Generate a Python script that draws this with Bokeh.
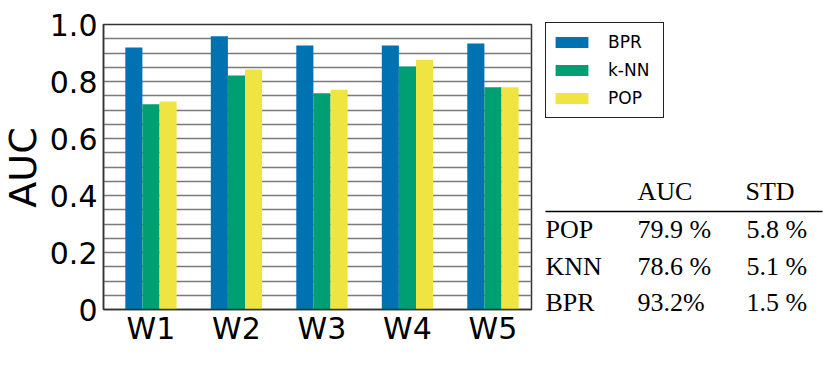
import math
from bokeh.plotting import figure
from bokeh.layouts import row
from bokeh.models import (FixedTicker, Legend, LegendItem, ColumnDataSource, Range1d)
from bokeh.transform import dodge
from bokeh.core.properties import value
from bokeh.embed import file_html
from bokeh.resources import INLINE

# ---------------- data ----------------
weeks = ["W1", "W2", "W3", "W4", "W5"]
bpr = [0.919, 0.959, 0.926, 0.926, 0.933]
knn = [0.720, 0.821, 0.759, 0.853, 0.780]
pop = [0.730, 0.842, 0.771, 0.876, 0.780]
series_names = ["BPR", "k-NN", "POP"]
y_ticks = [0, 0.2, 0.4, 0.6, 0.8, 1.0]
y_tick_labels = ["0", "0.2", "0.4", "0.6", "0.8", "1.0"]
y_title = "AUC"
table_header = ["AUC", "STD"]
table_rows = ["POP", "KNN", "BPR"]
table_auc = ["79.9 %", "78.6 %", "93.2%"]
table_std = ["5.8 %", "5.1 %", "1.5 %"]

colors = ["#0072B2", "#009E73", "#F0E442"]
FONT = "DejaVu Sans"
SERIF = "Liberation Serif"
H = 358


def blank_panel(w):
    f = figure(width=w, height=H, output_backend="svg", toolbar_location=None,
               x_range=Range1d(0, w), y_range=Range1d(0, H),
               min_border=0, min_border_left=0, min_border_right=0,
               min_border_top=0, min_border_bottom=0)
    f.frame_align = False
    f.axis.visible = False
    f.grid.visible = False
    f.outline_line_color = None
    return f


# ---------------- y title panel ----------------
a = blank_panel(46)
a.text(x=[22], y=[H - 167], text=[y_title], angle=math.pi / 2, text_align="center",
       text_baseline="middle", text_font=value(FONT), text_font_size="38px",
       text_color="black")

# ---------------- bar chart ----------------
xpos = [i + 1 for i in range(len(weeks))]
src = ColumnDataSource(dict(x=xpos, bpr=bpr, knn=knn, pop=pop))

p = figure(width=490, height=H, output_backend="svg", toolbar_location=None,
           x_range=Range1d(0.445, 5.451), y_range=Range1d(0, 1.0),
           min_border_left=57, min_border_right=5, min_border_top=24, min_border_bottom=49)
p.frame_align = False

bw = 0.2
for col, off, c in zip(["bpr", "knn", "pop"], [-bw, 0, bw], colors):
    p.vbar(x=dodge("x", off, range=p.x_range), top=col, width=bw, source=src,
           fill_color=c, line_color=None)

p.xgrid.visible = False
p.ygrid.ticker = FixedTicker(ticks=[i * 0.05 for i in range(21)])
p.ygrid.grid_line_color = "#7a7a7a"
p.ygrid.grid_line_width = 1.5
p.ygrid.level = "underlay"

p.outline_line_color = "#333333"
p.outline_line_width = 1.5

p.xaxis.ticker = FixedTicker(ticks=xpos)
p.xaxis.major_label_overrides = {x: w for x, w in zip(xpos, weeks)}
p.yaxis.ticker = FixedTicker(ticks=y_ticks)
p.yaxis.major_label_overrides = {t: l for t, l in zip([0, 0.2, 0.4, 0.6, 0.8, 1], y_tick_labels)}

for ax in (p.xaxis, p.yaxis):
    ax.major_tick_line_color = None
    ax.minor_tick_line_color = None
    ax.major_tick_out = 0
    ax.major_tick_in = 0
    ax.axis_line_color = "#333333"
    ax.axis_line_width = 1.5
    ax.major_label_text_font = FONT
    ax.major_label_text_font_size = "30px"
    ax.major_label_text_color = "black"
p.xaxis.major_label_standoff = 1
p.yaxis.major_label_standoff = 6

# ---------------- legend + table panel ----------------
q = blank_panel(294)

items = []
for name, c in zip(series_names, colors):
    r = q.vbar(x=[-1000], top=[-1000], width=1, fill_color=c, line_color=None)
    items.append(LegendItem(label=name, renderers=[r]))
legend = Legend(items=items, location=(9, 240), margin=0, padding=5, spacing=0,
                glyph_width=41, glyph_height=14, label_height=28, label_width=50,
                label_standoff=16,
                label_text_font=FONT, label_text_font_size="17px", label_text_color="black",
                border_line_color="#222222", border_line_width=1.5, border_line_alpha=1.0,
                background_fill_color="white", background_fill_alpha=1.0)
q.add_layout(legend)

hdr = ColumnDataSource(dict(x=[101, 209], y=[H - 191, H - 191], t=table_header))
q.text(x="x", y="y", text="t", source=hdr, text_font=value(SERIF), text_font_size="26px",
       text_baseline="middle", text_align="left", text_color="black")
q.segment(x0=[9], y0=[H - 211], x1=[286], y1=[H - 211], line_color="black", line_width=1.5)

row_y = [H - 229, H - 266, H - 302]
cells = ColumnDataSource(dict(
    x=[9] * 3 + [101] * 3 + [210] * 3,
    y=row_y * 3,
    t=table_rows + table_auc + table_std))
q.text(x="x", y="y", text="t", source=cells, text_font=value(SERIF), text_font_size="26px",
       text_baseline="middle", text_align="left", text_color="black")

layout = row(a, p, q, spacing=0)
open("out.html", "w").write(file_html(layout, INLINE))
